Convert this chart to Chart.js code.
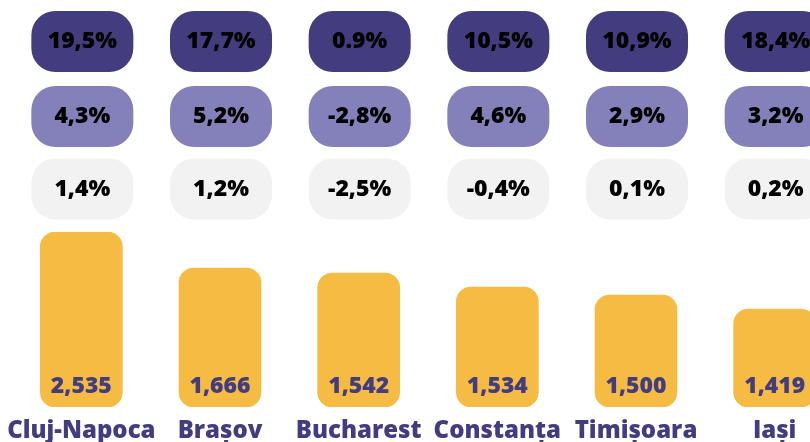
<!DOCTYPE html>
<html>
<head>
<meta charset="utf-8">
<script src="https://cdn.jsdelivr.net/npm/chart.js@4.4.1/dist/chart.umd.min.js"></script>
<style>
  html, body { margin: 0; padding: 0; background: #ffffff; overflow: hidden; }
  #wrap { position: relative; width: 845px; height: 442px; }
</style>
</head>
<body>
<div id="wrap"><canvas id="c"></canvas></div>
<script>
// ---- data ----
const cities = ["Cluj-Napoca", "Brașov", "Bucharest", "Constanța", "Timișoara", "Iași"];
const barValues = [2535, 1666, 1542, 1534, 1500, 1419];       // numbers shown in the bars
const barLevels = [175, 139, 134, 120, 112, 98];                // visual bar heights (relative)
const rowTop = ["19,5%", "17,7%", "0.9%", "10,5%", "10,9%", "18,4%"];
const rowMid = ["4,3%", "5,2%", "-2,8%", "4,6%", "2,9%", "3,2%"];
const rowLow = ["1,4%", "1,2%", "-2,5%", "-0,4%", "0,1%", "0,2%"];

const FONT = "'Open Sans', 'DejaVu Sans', sans-serif";
const PURPLE = "#423d80";

const pillRows = [
  { labels: rowTop, fill: "#433d80", cy: 41.5 },
  { labels: rowMid, fill: "#8480ba", cy: 116.5 },
  { labels: rowLow, fill: "#f2f2f2", cy: 189 }
];

const overlay = {
  id: "overlay",
  afterDatasetsDraw(chart) {
    const ctx = chart.ctx;
    const xs = chart.scales.x;
    ctx.save();
    pillRows.forEach(row => {
      row.labels.forEach((txt, i) => {
        const cx = xs.getPixelForValue(i) + 1;
        const w = 102, h = 61, r = 24;
        ctx.beginPath();
        ctx.roundRect(cx - w / 2, row.cy - h / 2, w, h, r);
        ctx.fillStyle = row.fill;
        ctx.fill();
        ctx.fillStyle = "#000000";
        ctx.font = "800 23px " + FONT;
        ctx.textAlign = "center";
        ctx.textBaseline = "middle";
        ctx.fillText(txt, cx, row.cy);
      });
    });
    const meta = chart.getDatasetMeta(0);
    meta.data.forEach((bar, i) => {
      ctx.fillStyle = PURPLE;
      ctx.font = "800 23px " + FONT;
      ctx.textAlign = "center";
      ctx.textBaseline = "alphabetic";
      ctx.fillText(barValues[i].toLocaleString("en-US"), bar.x, bar.base - 14);
    });
    ctx.restore();
  }
};

new Chart(document.getElementById("c"), {
  type: "bar",
  data: {
    labels: cities,
    datasets: [{
      data: barLevels,
      backgroundColor: "#f6bb42",
      borderRadius: 15,
      borderSkipped: false,
      barThickness: 82
    }]
  },
  options: {
    responsive: true,
    maintainAspectRatio: false,
    animation: false,
    layout: { padding: { top: 232, left: 12, right: 1, bottom: 0 } },
    plugins: { legend: { display: false }, tooltip: { enabled: false } },
    scales: {
      y: { display: false, min: 0, max: 175 },
      x: {
        grid: { display: false, drawTicks: false },
        border: { display: false },
        afterFit(scale) {
          scale.paddingLeft = 0;
          scale.paddingRight = 0;
          scale.height = 35;
        },
        ticks: {
          color: PURPLE,
          padding: 12,
          maxRotation: 0,
          minRotation: 0,
          autoSkip: false,
          font: { family: FONT, size: 24, weight: "800", lineHeight: 1 }
        }
      }
    }
  },
  plugins: [overlay]
});
</script>
</body>
</html>
